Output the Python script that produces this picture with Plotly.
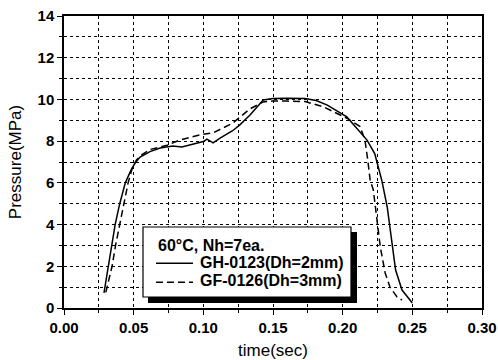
import plotly.graph_objects as go

gh_time = [0.0287, 0.030, 0.032, 0.0345, 0.0367, 0.040, 0.044, 0.048, 0.051, 0.0546, 0.0617,
           0.069, 0.078, 0.0846, 0.0927, 0.100, 0.1026, 0.107, 0.112, 0.121, 0.126, 0.1335,
           0.143, 0.150, 0.160, 0.173, 0.181, 0.189, 0.203, 0.2175, 0.223, 0.227, 0.228,
           0.232, 0.2355, 0.238, 0.2426, 0.250]
gh_pressure = [0.72, 1.25, 2.0, 3.0, 4.0, 5.0, 6.0, 6.6, 6.95, 7.24, 7.5,
               7.67, 7.77, 7.72, 7.86, 7.98, 8.1, 7.92, 8.14, 8.5, 8.77, 9.25,
               9.97, 10.05, 10.06, 10.05, 9.95, 9.73, 9.16, 8.05, 7.4, 6.47, 6.14,
               4.84, 2.93, 1.82, 0.86, 0.24]

gf_time = [0.030, 0.031, 0.0345, 0.037, 0.040, 0.043, 0.046, 0.049, 0.052, 0.056, 0.0617,
           0.074, 0.083, 0.0976, 0.107, 0.121, 0.132, 0.1335, 0.143, 0.150, 0.160, 0.173,
           0.186, 0.203, 0.2125, 0.216, 0.218, 0.2197, 0.222, 0.2247, 0.227, 0.2305,
           0.234, 0.239, 0.2426]
gf_pressure = [0.75, 1.0, 2.0, 3.0, 4.0, 5.0, 6.0, 6.7, 7.1, 7.35, 7.6,
               7.8, 8.05, 8.3, 8.4, 8.86, 9.5, 9.55, 9.88, 9.92, 9.92, 9.9,
               9.65, 9.1, 8.7, 8.05, 7.1, 6.14, 5.66, 4.22, 2.93, 1.68,
               1.0, 0.53, 0.38]

series_names = ["GH-0123(Dh=2mm)", "GF-0126(Dh=3mm)"]
legend_title = "60°C, Nh=7ea."

x_ticks = [0.00, 0.05, 0.10, 0.15, 0.20, 0.25, 0.30]
x_labels = ["0.00", "0.05", "0.10", "0.15", "0.20", "0.25", "0.30"]
y_ticks = [0, 2, 4, 6, 8, 10, 12, 14]

FONT = "Liberation Sans, Arial, sans-serif"
DASHES = ["solid", "7px,4px"]

fig = go.Figure()
fig.add_trace(go.Scatter(x=gh_time, y=gh_pressure, mode="lines", name=series_names[0],
                         line=dict(color="black", width=1.5, dash=DASHES[0])))
fig.add_trace(go.Scatter(x=gf_time, y=gf_pressure, mode="lines", name=series_names[1],
                         line=dict(color="black", width=1.5, dash=DASHES[1])))

# ---- hand-drawn legend box (with drop shadow), in paper coordinates ----
fig.add_shape(type="rect", xref="paper", yref="paper",
              x0=0.201, x1=0.701, y0=0.0171, y1=0.2603,
              fillcolor="black", line=dict(width=0), layer="above")
fig.add_shape(type="rect", xref="paper", yref="paper",
              x0=0.189, x1=0.6866, y0=0.0377, y1=0.2774,
              fillcolor="white", line=dict(color="black", width=1.2), layer="above")
fig.add_annotation(xref="paper", yref="paper", x=0.220, y=0.215, xanchor="left",
                   yanchor="middle", text=legend_title, showarrow=False,
                   font=dict(family=FONT, size=16, weight="bold", color="black"))
row_y = [0.1575, 0.0925]
for name, dash, yy in zip(series_names, DASHES, row_y):
    fig.add_shape(type="line", xref="paper", yref="paper",
                  x0=0.220, x1=0.3086, y0=yy - 0.004, y1=yy - 0.004,
                  line=dict(color="black", width=1.5, dash=dash), layer="above")
    fig.add_annotation(xref="paper", yref="paper", x=0.3206, y=yy, xanchor="left",
                       yanchor="middle", text=name, showarrow=False,
                       font=dict(family=FONT, size=16, weight="bold", color="black"))

fig.update_layout(
    width=498, height=360,
    margin=dict(l=64, r=16, t=16, b=52),
    paper_bgcolor="white", plot_bgcolor="white",
    font=dict(family=FONT, color="black"),
    showlegend=False,
    xaxis=dict(
        range=[0, 0.30], tickvals=x_ticks, ticktext=x_labels, automargin=False,
        ticks="outside", ticklen=5, tickwidth=1, tickcolor="black",
        showline=True, linecolor="black", linewidth=1.5, mirror=True,
        showgrid=True, gridcolor="black", griddash="dot", gridwidth=1,
        minor=dict(dtick=0.025, showgrid=True, gridcolor="black", griddash="dot",
                   gridwidth=1, ticks="outside", ticklen=3, tickcolor="black"),
        tickfont=dict(family=FONT, size=15, weight="bold"),
        title=dict(text="time(sec)", font=dict(family=FONT, size=17), standoff=20),
        zeroline=False,
    ),
    yaxis=dict(
        range=[0, 14], tickvals=y_ticks, automargin=False,
        ticks="outside", ticklen=5, tickwidth=1, tickcolor="black",
        showline=True, linecolor="black", linewidth=1.5, mirror=True,
        showgrid=True, gridcolor="black", griddash="dot", gridwidth=1,
        minor=dict(dtick=1, showgrid=True, gridcolor="black", griddash="dot",
                   gridwidth=1, ticks="outside", ticklen=3, tickcolor="black"),
        tickfont=dict(family=FONT, size=15, weight="bold"),
        title=dict(text="Pressure(MPa)", font=dict(family=FONT, size=17), standoff=12),
        zeroline=False,
    ),
)

fig.write_html("out.html")
